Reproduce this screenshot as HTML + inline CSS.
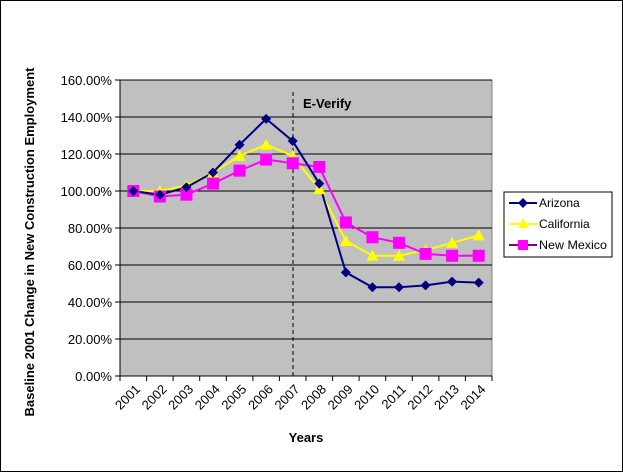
<!DOCTYPE html>
<html><head><style>body{margin:0;background:#fff}svg{display:block}</style></head><body>
<svg width="623" height="472" xmlns="http://www.w3.org/2000/svg" font-family="Liberation Sans, Arial, sans-serif">
<rect x="0.5" y="0.5" width="622" height="471" fill="#fff" stroke="#000"/>
<rect x="120" y="80" width="372" height="296" fill="#c0c0c0" stroke="#808080"/>
<g stroke="#000" stroke-width="1">
<line x1="120" y1="80" x2="492" y2="80"/><line x1="120" y1="117" x2="492" y2="117"/><line x1="120" y1="154" x2="492" y2="154"/><line x1="120" y1="191" x2="492" y2="191"/><line x1="120" y1="228" x2="492" y2="228"/><line x1="120" y1="265" x2="492" y2="265"/><line x1="120" y1="302" x2="492" y2="302"/><line x1="120" y1="339" x2="492" y2="339"/>
<line x1="120" y1="376" x2="492" y2="376"/><line x1="120" y1="80" x2="120" y2="376"/>
</g>
<g stroke="#000">
<line x1="115" y1="80" x2="120" y2="80"/><line x1="115" y1="117" x2="120" y2="117"/><line x1="115" y1="154" x2="120" y2="154"/><line x1="115" y1="191" x2="120" y2="191"/><line x1="115" y1="228" x2="120" y2="228"/><line x1="115" y1="265" x2="120" y2="265"/><line x1="115" y1="302" x2="120" y2="302"/><line x1="115" y1="339" x2="120" y2="339"/><line x1="115" y1="376" x2="120" y2="376"/>
<line x1="120" y1="376" x2="120" y2="381"/><line x1="146.6" y1="376" x2="146.6" y2="381"/><line x1="173.1" y1="376" x2="173.1" y2="381"/><line x1="199.7" y1="376" x2="199.7" y2="381"/><line x1="226.3" y1="376" x2="226.3" y2="381"/><line x1="252.9" y1="376" x2="252.9" y2="381"/><line x1="279.4" y1="376" x2="279.4" y2="381"/><line x1="306" y1="376" x2="306" y2="381"/><line x1="332.6" y1="376" x2="332.6" y2="381"/><line x1="359.1" y1="376" x2="359.1" y2="381"/><line x1="385.7" y1="376" x2="385.7" y2="381"/><line x1="412.3" y1="376" x2="412.3" y2="381"/><line x1="438.9" y1="376" x2="438.9" y2="381"/><line x1="465.4" y1="376" x2="465.4" y2="381"/><line x1="492" y1="376" x2="492" y2="381"/>
</g>
<line x1="293" y1="92" x2="293" y2="376" stroke="#000" stroke-dasharray="4,3"/>
<text x="303" y="108" font-size="13" font-weight="bold">E-Verify</text>
<g font-size="13" text-anchor="end">
<text x="112" y="85">160.00%</text><text x="112" y="122">140.00%</text><text x="112" y="159">120.00%</text><text x="112" y="196">100.00%</text><text x="112" y="233">80.00%</text><text x="112" y="270">60.00%</text><text x="112" y="307">40.00%</text><text x="112" y="344">20.00%</text><text x="112" y="381">0.00%</text>
</g>
<g font-size="13" text-anchor="end">
<text transform="translate(141,390) rotate(-45)">2001</text><text transform="translate(167.6,390) rotate(-45)">2002</text><text transform="translate(194.1,390) rotate(-45)">2003</text><text transform="translate(220.7,390) rotate(-45)">2004</text><text transform="translate(247.3,390) rotate(-45)">2005</text><text transform="translate(273.9,390) rotate(-45)">2006</text><text transform="translate(300.4,390) rotate(-45)">2007</text><text transform="translate(327,390) rotate(-45)">2008</text><text transform="translate(353.6,390) rotate(-45)">2009</text><text transform="translate(380.1,390) rotate(-45)">2010</text><text transform="translate(406.7,390) rotate(-45)">2011</text><text transform="translate(433.3,390) rotate(-45)">2012</text><text transform="translate(459.9,390) rotate(-45)">2013</text><text transform="translate(486.4,390) rotate(-45)">2014</text>
</g>
<text x="306" y="442" font-size="13" font-weight="bold" text-anchor="middle">Years</text>
<text transform="translate(34,242) rotate(-90)" font-size="13" font-weight="bold" text-anchor="middle">Baseline 2001 Change in New Construction  Employment</text>
<script>
var xs=[],i;for(i=0;i<14;i++)xs.push(133.3+i*26.57);
function Y(v){return 376-v*1.85}
var az=[100,98,102,110,125,139,127,104,56,48,48,49,51,50.5],
ca=[100,100,103,110,119,125,119,101,73,65,65,68,72,76],
nm=[100,97,98,104,111,117,115,113,83,75,72,66,65,65];
var ns="http://www.w3.org/2000/svg",svg=document.querySelector("svg");
function el(t,a){var e=document.createElementNS(ns,t);for(var k in a)e.setAttribute(k,a[k]);svg.appendChild(e);return e}
function pts(d){return d.map(function(v,i){return xs[i]+","+Y(v)}).join(" ")}
el("polyline",{points:pts(ca),fill:"none",stroke:"#ffff00","stroke-width":2});
el("polyline",{points:pts(nm),fill:"none",stroke:"#ff00ff","stroke-width":2});
el("polyline",{points:pts(az),fill:"none",stroke:"#000080","stroke-width":2});
ca.forEach(function(v,i){var x=xs[i],y=Y(v);el("polygon",{points:(x)+","+(y-6)+" "+(x-6)+","+(y+5)+" "+(x+6)+","+(y+5),fill:"#ffff00"})});
nm.forEach(function(v,i){el("rect",{x:xs[i]-6,y:Y(v)-6,width:12,height:12,fill:"#ff00ff"})});
az.forEach(function(v,i){var x=xs[i],y=Y(v);el("polygon",{points:x+","+(y-5)+" "+(x+5)+","+y+" "+x+","+(y+5)+" "+(x-5)+","+y,fill:"#000080"})});
</script>
<rect x="504" y="192" width="108" height="65" fill="#fff" stroke="#000"/>
<line x1="509" y1="203" x2="537" y2="203" stroke="#000080" stroke-width="2"/><polygon points="523,198 528,203 523,208 518,203" fill="#000080"/>
<line x1="509" y1="224" x2="537" y2="224" stroke="#ffff00" stroke-width="2"/><polygon points="523,218 518,228 528,228" fill="#ffff00"/>
<line x1="509" y1="245" x2="537" y2="245" stroke="#800080" stroke-width="2"/><rect x="518" y="240" width="10" height="10" fill="#ff00ff"/>
<g font-size="12"><text x="539" y="207">Arizona</text><text x="539" y="228">California</text><text x="539" y="249" textLength="68" lengthAdjust="spacingAndGlyphs">New Mexico</text></g>
</svg>
</body></html>
